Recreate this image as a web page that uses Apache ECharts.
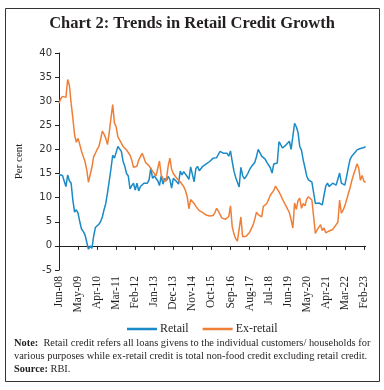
<!DOCTYPE html>
<html>
<head>
<meta charset="utf-8">
<script src="https://cdn.jsdelivr.net/npm/echarts@6/dist/echarts.min.js"></script>
<style>html,body{margin:0;padding:0;background:#fff;}#c{width:384px;height:390px;}</style>
</head>
<body>
<div id="c"></div>
<script>
// Monthly categories Jun-08 .. Mar-23
const monthNames = ['Jan','Feb','Mar','Apr','May','Jun','Jul','Aug','Sep','Oct','Nov','Dec'];
const startYear = 2008, startMonth = 5, nMonths = 178;
const categories = [];
for (let k = 0; k < nMonths; k++) {
  const m = (startMonth + k) % 12;
  const y = startYear + Math.floor((startMonth + k) / 12);
  categories.push(monthNames[m] + '-' + String(y % 100).padStart(2, '0'));
}

const yTicks = [-5, 0, 5, 10, 15, 20, 25, 30, 35, 40];

const retail = [
14.8,14.5,14.6,14.2,12.3,14.7,13.5,13.0,9.5,7.0,
7.5,6.8,5.0,3.5,3.0,2.3,2.0,-0.7,0.0,-0.5,
2.0,3.8,4.0,4.5,5.0,6.0,7.5,8.8,11.0,13.5,
16.0,18.8,18.2,18.0,20.6,20.3,19.6,17.5,16.5,15.0,
14.5,11.8,12.5,13.0,11.6,13.0,11.4,12.3,12.6,13.0,
13.0,13.0,13.7,16.2,14.0,14.5,14.2,13.5,12.5,14.5,
12.8,14.0,13.5,14.4,13.8,12.0,14.0,14.4,13.3,12.8,
15.5,14.7,15.4,15.0,14.4,13.8,16.4,16.8,13.3,16.0,
16.5,15.6,16.0,16.5,16.8,17.0,17.2,17.5,17.3,18.2,
18.5,18.3,19.0,19.6,19.8,19.2,19.0,19.2,18.6,19.7,
17.5,15.5,14.2,13.2,12.2,16.3,14.6,13.9,14.4,15.0,
15.8,16.4,16.1,17.3,18.5,20.0,20.2,18.6,18.8,18.0,
17.3,17.0,16.2,15.1,17.0,16.8,17.2,21.6,21.0,20.3,
20.6,20.9,21.3,21.7,20.0,20.1,25.4,24.7,23.5,20.6,
19.8,17.8,16.2,14.5,13.7,13.6,13.2,12.8,8.8,9.2,
8.9,9.1,8.5,10.5,12.4,13.0,12.3,12.7,13.0,13.2,
12.6,13.0,15.1,13.0,12.7,12.6,14.3,16.2,17.9,18.6,
19.0,19.4,19.9,19.8,20.2,20.2,20.4,20.6
];

const exRetail = [
29.6,30.5,31.0,30.8,30.8,34.5,33.3,29.6,26.5,23.0,
21.5,22.3,21.0,19.6,19.2,17.5,15.8,13.2,13.4,16.3,
18.5,19.2,20.0,20.6,22.0,23.8,23.2,22.3,21.0,23.5,
26.5,29.3,25.5,24.7,22.6,22.5,21.3,20.6,20.3,19.9,
19.5,18.8,17.8,16.3,16.0,16.5,17.8,17.6,19.2,18.3,
17.3,17.0,16.6,16.2,15.5,15.8,14.5,14.2,17.6,14.7,
15.0,13.3,13.8,16.5,18.2,15.9,15.0,14.5,14.0,13.7,
13.3,13.0,12.3,11.5,10.2,7.7,9.6,9.2,8.8,8.2,
7.8,7.3,7.0,6.9,6.5,6.4,6.3,6.2,6.1,6.3,
6.9,7.8,7.2,6.8,5.8,5.6,5.5,5.8,6.1,8.3,
4.0,2.5,1.5,1.0,0.9,6.0,1.9,1.5,2.0,2.4,
2.8,3.2,4.3,5.5,7.0,6.5,6.3,6.0,8.2,8.6,
8.8,9.0,10.5,10.8,11.5,12.4,12.2,11.2,10.5,9.7,
9.0,8.3,7.6,6.9,5.4,3.7,8.9,7.6,9.4,9.9,
7.8,8.8,8.3,9.7,10.2,9.8,9.5,9.2,2.6,3.3,
3.9,4.4,3.2,3.7,2.7,2.9,3.1,3.3,3.4,3.8,
4.4,4.9,9.5,6.8,7.4,8.3,9.5,10.8,12.0,13.5,
14.7,15.8,17.0,16.2,13.6,14.6,13.4,13.2
];

const seriesNames = ['Retail', 'Ex-retail'];
const colors = ['#1a8bc6', '#ef7f37'];

const chart = echarts.init(document.getElementById('c'), null, {renderer: 'canvas'});
const serif = '"Liberation Serif", "DejaVu Serif", serif';
chart.setOption({
  animation: false,
  color: colors,
  grid: {left: 59, top: 53, width: 306.6, height: 217},
  xAxis: {
    type: 'category',
    data: categories,
    boundaryGap: false,
    axisLine: {onZero: true, lineStyle: {color: '#222', width: 1}},
    axisTick: {interval: 10, length: 4, inside: false, lineStyle: {color: '#222'}},
    axisLabel: {interval: 10, rotate: 90, margin: 6, fontFamily: serif, fontSize: 11.5, color: '#231f20'},
    splitLine: {show: false}
  },
  yAxis: {
    type: 'value',
    min: yTicks[0], max: yTicks[yTicks.length - 1], interval: 5,
    name: 'Per cent',
    nameLocation: 'middle',
    nameGap: 34,
    nameTextStyle: {fontFamily: serif, fontSize: 11, color: '#231f20'},
    axisLine: {show: true, lineStyle: {color: '#222', width: 1}},
    axisTick: {show: true, length: 4, lineStyle: {color: '#222'}},
    axisLabel: {margin: 7, fontFamily: '"DejaVu Sans", sans-serif', fontSize: 10, color: '#333'},
    splitLine: {show: false}
  },
  legend: {
    data: seriesNames,
    top: 318,
    left: 122,
    icon: 'rect',
    itemWidth: 30,
    itemHeight: 2.5,
    itemGap: 14,
    textStyle: {fontFamily: serif, fontSize: 12, color: '#231f20', padding: [0, 0, 0, -2]}
  },
  series: [
    {name: seriesNames[0], type: 'line', data: retail, showSymbol: false, symbol: 'none', lineStyle: {width: 1.5, color: colors[0]}, itemStyle: {color: colors[0]}},
    {name: seriesNames[1], type: 'line', data: exRetail, showSymbol: false, symbol: 'none', lineStyle: {width: 1.5, color: colors[1]}, itemStyle: {color: colors[1]}}
  ],
  graphic: [
    {type: 'rect', shape: {x: 5.5, y: 8.5, width: 374, height: 373}, style: {fill: 'none', stroke: '#333', lineWidth: 1}, silent: true},
    {type: 'text', left: 'center', top: 15, style: {text: 'Chart 2: Trends in Retail Credit Growth', font: 'bold 16.5px ' + serif, fill: '#231f20'}},
    {type: 'text', left: 14, top: 337, style: {
      rich: {b: {font: 'bold 10.4px ' + serif, fill: '#231f20'}, n: {font: '10.4px ' + serif, fill: '#231f20'}},
      text: '{b|Note:}{n|  Retail credit refers all loans givens to the individual customers/ households for}\n{n|various purposes while ex-retail credit is total non-food credit excluding retail credit.}\n{b|Source:}{n| RBI.}',
      lineHeight: 12.8
    }}
  ]
});
</script>
</body>
</html>
